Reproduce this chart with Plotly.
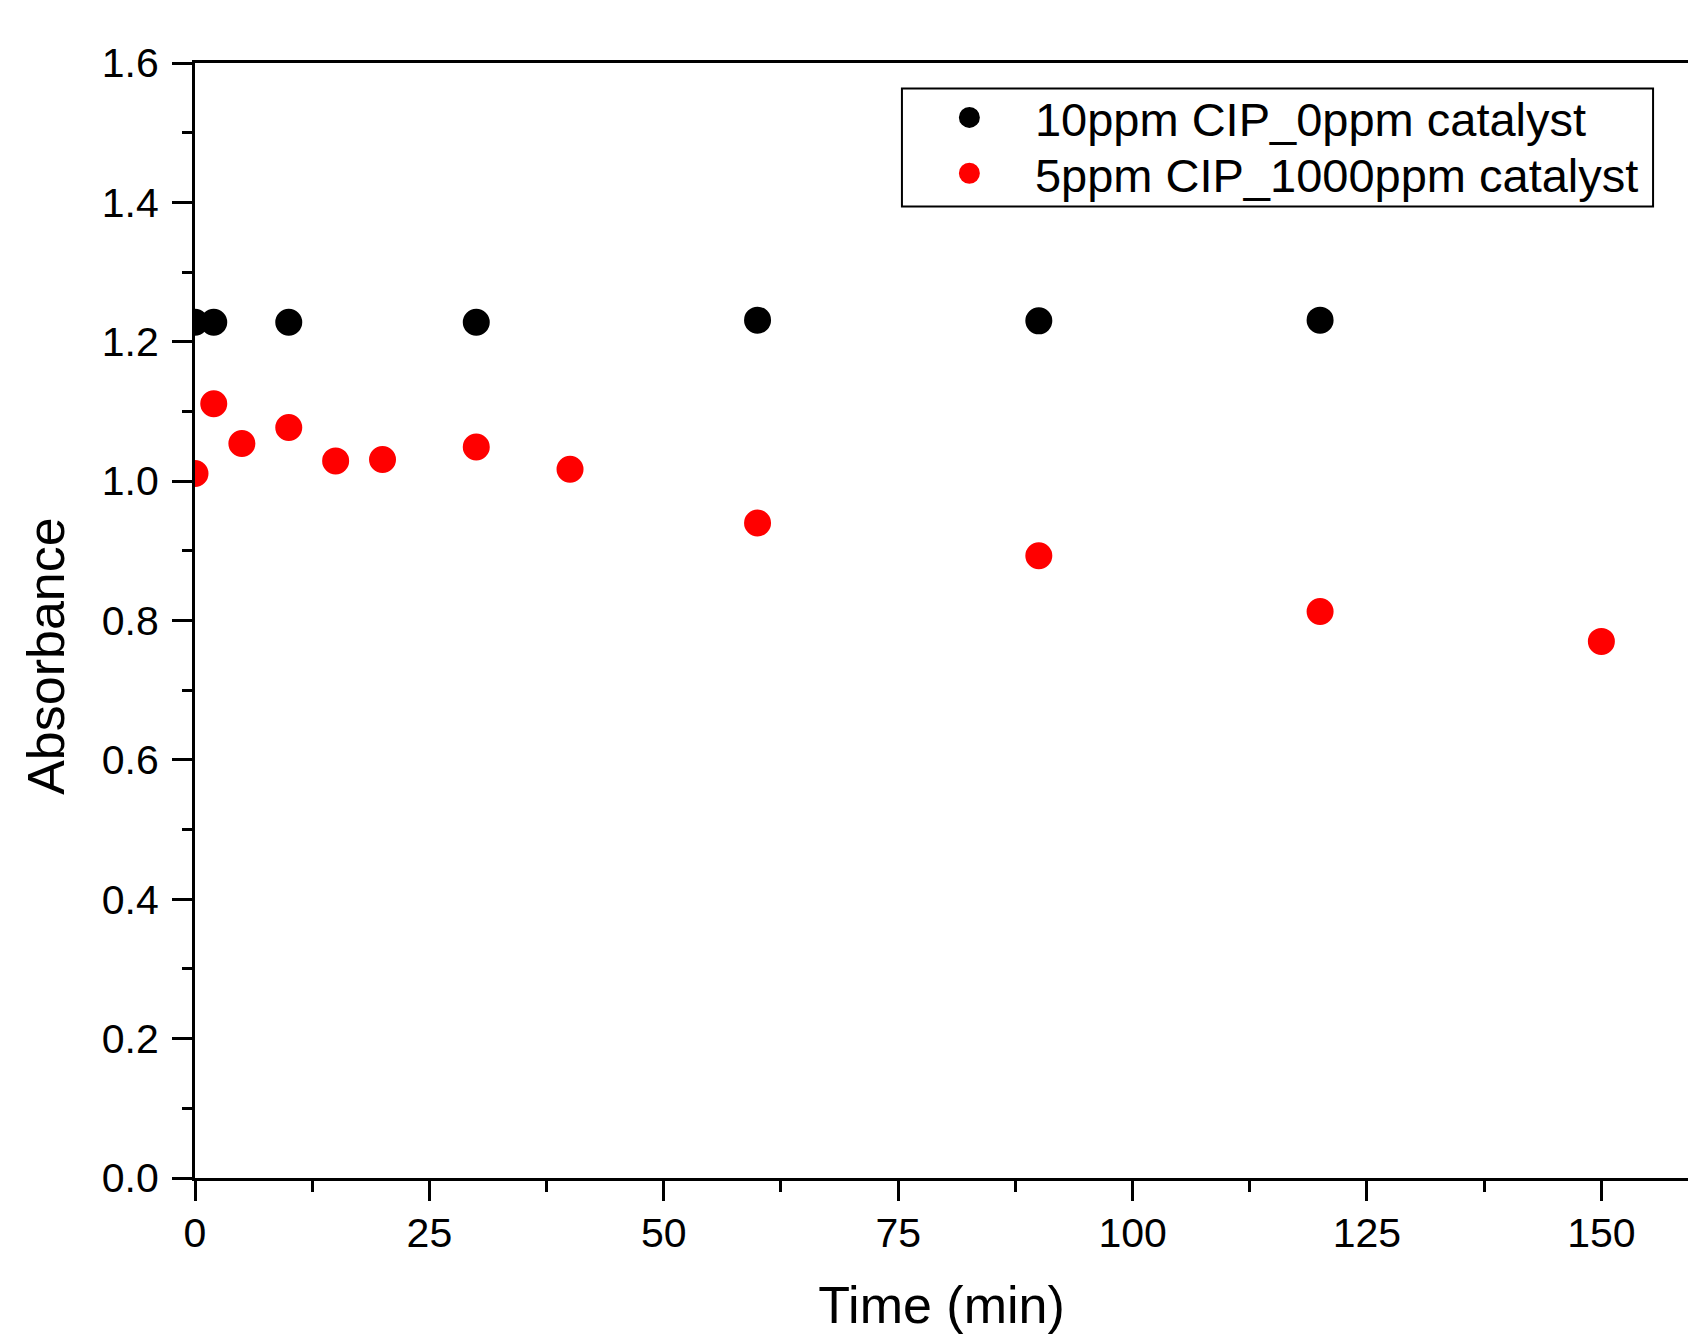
import plotly.graph_objects as go

# Data
time_ctrl = [0, 2, 10, 30, 60, 90, 120]
abs_ctrl = [1.228, 1.228, 1.228, 1.228, 1.231, 1.230, 1.231]

time_cat = [0, 2, 5, 10, 15, 20, 30, 40, 60, 90, 120, 150]
abs_cat = [1.011, 1.111, 1.054, 1.077, 1.029, 1.031, 1.049, 1.017, 0.940, 0.893, 0.813, 0.770]

name_ctrl = "10ppm CIP_0ppm catalyst"
name_cat = "5ppm CIP_1000ppm catalyst"

x_title = "Time (min)"
y_title = "Absorbance"

FONT = "Liberation Sans, Arial, sans-serif"

fig = go.Figure()
fig.add_trace(go.Scatter(x=time_ctrl, y=abs_ctrl, mode="markers", name=name_ctrl,
                         legend="legend",
                         marker=dict(color="black", size=22, line=dict(width=5, color="black"))))
fig.add_trace(go.Scatter(x=time_cat, y=abs_cat, mode="markers", name=name_cat,
                         legend="legend2",
                         marker=dict(color="#ff0000", size=22, line=dict(width=5, color="#ff0000"))))

leg_common = dict(
    xanchor="left", yanchor="middle",
    bgcolor="rgba(0,0,0,0)", borderwidth=0,
    font=dict(family=FONT, size=47, color="black"),
    itemsizing="trace", itemwidth=121,
)

fig.update_layout(
    width=1688, height=1334,
    margin=dict(l=195, r=0, t=62.5, b=156, autoexpand=False),
    paper_bgcolor="white", plot_bgcolor="white",
    font=dict(family=FONT, color="black", size=41),
    showlegend=True,
    legend=dict(x=0.4748, y=0.9508, **leg_common),
    legend2=dict(x=0.4748, y=0.9007, **leg_common),
    shapes=[dict(type="rect", xref="paper", yref="paper",
                 x0=0.4735, x1=0.9766, y0=0.8714, y1=0.9771,
                 line=dict(color="black", width=2), fillcolor="rgba(0,0,0,0)", layer="above")],
    annotations=[dict(text=y_title, xref="paper", yref="paper", x=-0.0998, y=0.4683,
                      xanchor="center", yanchor="middle", textangle=-90, showarrow=False,
                      font=dict(family=FONT, size=52, color="black"))],
)

fig.update_xaxes(
    range=[0, 159.24], dtick=25, tick0=0,
    showgrid=False, zeroline=False,
    showline=True, linecolor="black", linewidth=3, mirror=True,
    ticks="outside", ticklen=20, tickwidth=3, tickcolor="black",
    tickfont=dict(family=FONT, size=41, color="black"),
    ticklabelstandoff=-3,
    minor=dict(dtick=12.5, ticks="outside", ticklen=11, tickwidth=3, tickcolor="black", showgrid=False),
    title=dict(text=x_title, font=dict(family=FONT, size=52, color="black"), standoff=58),
    automargin=False,
)
fig.update_yaxes(
    range=[0, 1.6], dtick=0.2, tick0=0, tickformat=".1f",
    showgrid=False, zeroline=False,
    showline=True, linecolor="black", linewidth=3, mirror=False,
    ticks="outside", ticklen=20, tickwidth=3, tickcolor="black",
    tickfont=dict(family=FONT, size=41, color="black"),
    ticklabelstandoff=5,
    minor=dict(dtick=0.1, ticks="outside", ticklen=10, tickwidth=3, tickcolor="black", showgrid=False),
    automargin=False,
)

fig.write_html(
    "out.html",
    config={"displayModeBar": False},
    post_script=(
        "document.body.style.margin='0';"
        "document.body.style.overflow='hidden';"
        "document.documentElement.style.overflow='hidden';"
    ),
)
